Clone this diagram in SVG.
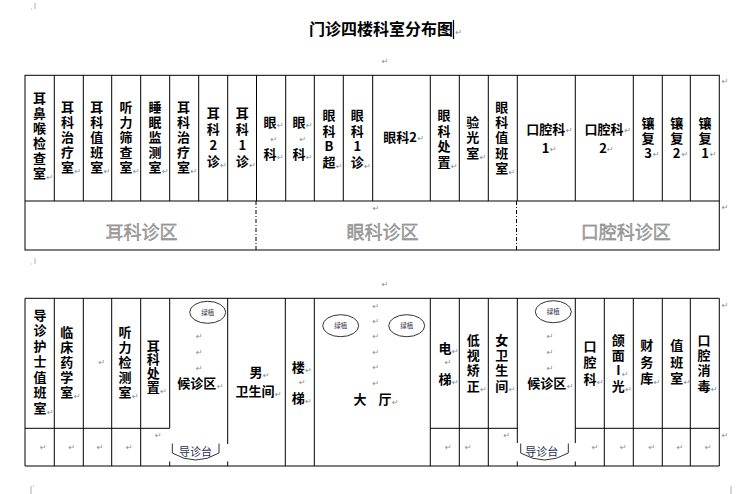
<svg xmlns="http://www.w3.org/2000/svg" width="753" height="494" viewBox="0 0 753 494">
<style>
.t{font-family:"Noto Sans CJK SC","Liberation Sans",sans-serif;font-size:13px;font-weight:700;fill:#000;text-anchor:middle}
.v{font-family:"Noto Sans CJK SC","Liberation Sans",sans-serif;font-size:13px;font-weight:700;fill:#000;writing-mode:vertical-rl;text-orientation:upright;text-anchor:start}
.ti{font-family:"Noto Sans CJK SC","Liberation Sans",sans-serif;font-size:16px;font-weight:700;fill:#000;text-anchor:middle}
.z{font-family:"Noto Sans CJK SC","Liberation Sans",sans-serif;font-size:18px;font-weight:400;fill:#a8a8a8;stroke:#6e6e6e;stroke-width:0.35;text-anchor:middle}
.pm{font-family:"DejaVu Sans",sans-serif;font-size:8px;fill:#8a8a8a;text-anchor:start}
.g{font-family:"Noto Sans CJK SC",sans-serif;font-size:6.5px;fill:#334;text-anchor:middle}
.d{font-family:"Noto Sans CJK SC",sans-serif;font-size:11px;fill:#1f2f55;text-anchor:middle}
.ln{stroke:#000;stroke-width:1;fill:none}
.dash{stroke:#000;stroke-width:1;fill:none;stroke-dasharray:4 2 1 2}
.ov{fill:#fff;stroke:#333;stroke-width:1}
.br{fill:none;stroke:#333;stroke-width:1}
.cm{stroke:#999;stroke-width:0.8;fill:none}
</style>
<rect width="753" height="494" fill="#fff"/>

<path class="cm" d="M35,3 V9 M31,9 H32 M35,258 V264 M31,264 H32 M31,486 V494 M33,486 H34 M731,486 V494"/>

<g id="title">
<text class="ti" x="381" y="35">门诊四楼科室分布图</text>
<path d="M453.5,20 V39" stroke="#000" stroke-width="1.2"/>
<text class="pm" x="455.5" y="35">↵</text>
<text class="pm" x="381.7" y="64">↵</text>
</g>

<g id="lines">
<rect class="ln" x="25" y="75.3" width="694.3" height="174.7"/>
<path class="ln" d="M25,201 H719.3
M54.3,75.3 V201 M83.3,75.3 V201 M111.7,75.3 V201 M140.7,75.3 V201 M169.7,75.3 V201 M198.7,75.3 V201 M227.7,75.3 V201 M256.5,75.3 V201
M285.7,75.3 V201 M314.3,75.3 V201 M343.3,75.3 V201 M372.7,75.3 V201 M430.3,75.3 V201 M459.3,75.3 V201 M488.3,75.3 V201 M517.3,75.3 V201
M575.3,75.3 V201 M633.3,75.3 V201 M662.3,75.3 V201 M690.3,75.3 V201"/>
<path class="dash" d="M256,201 V250 M516.5,201 V250"/>
<path class="ln" d="M25,298.3 H719.3 M25,466 H719.3 M25,298.3 V466 M719.3,298.3 V466
M25,428.3 H169.7 M430.3,428.3 H517.3 M575.3,428.3 H719.3
M54.3,298.3 V466 M83.3,298.3 V466 M111.7,298.3 V466 M140.7,298.3 V466
M285.3,298.3 V466 M314.3,298.3 V466 M430.3,298.3 V466 M459.3,298.3 V466 M488.3,298.3 V466
M604.3,298.3 V466 M633.3,298.3 V466 M662.3,298.3 V466 M690.3,298.3 V466
M169.7,298.3 V428.3 M169.7,461.5 V466
M227.7,298.3 V444 M227.7,461.5 V466
M517.3,298.3 V443 M517.3,461.5 V466
M575.3,298.3 V443 M575.3,461.5 V466"/>
</g>

<g id="ent-zone">
<text class="v" x="39.5" y="91.2" style="letter-spacing:2px">耳鼻喉检查室</text>
<text class="v" x="67.5" y="100.2" style="letter-spacing:2px">耳科治疗室</text>
<text class="v" x="96.7" y="100.2" style="letter-spacing:2px">耳科值班室</text>
<text class="v" x="126" y="100.2" style="letter-spacing:2px">听力筛查室</text>
<text class="v" x="155" y="100.2" style="letter-spacing:2px">睡眠监测室</text>
<text class="v" x="183.5" y="100.2" style="letter-spacing:2px">耳科治疗室</text>
<text class="v" x="213.3" y="106.5" style="letter-spacing:3px">耳科2诊</text>
<text class="v" x="242.3" y="106.5" style="letter-spacing:3px">耳科1诊</text>
<text class="pm"><tspan x="46.5" y="180">↵</tspan><tspan x="74.5" y="174">↵</tspan><tspan x="103.7" y="174">↵</tspan><tspan x="133" y="174">↵</tspan><tspan x="162" y="174">↵</tspan><tspan x="190.5" y="174">↵</tspan><tspan x="220.3" y="168">↵</tspan><tspan x="249.3" y="168">↵</tspan></text>
<text class="z" x="141.5" y="238.5">耳科诊区</text>
</g>

<g id="eye-zone">
<text class="t" x="270" y="126.7">眼</text>
<text class="t" x="270" y="159">科</text>
<text class="t" x="299" y="126.7">眼</text>
<text class="t" x="299" y="159">科</text>
<text class="v" x="329" y="108.5" style="letter-spacing:2.6px">眼科B超</text>
<text class="v" x="357.3" y="108.5" style="letter-spacing:2.6px">眼科1诊</text>
<text class="t" x="400" y="141.7">眼科2</text>
<text class="v" x="444" y="108.5" style="letter-spacing:2.6px">眼科处置</text>
<text class="v" x="472.7" y="115.2" style="letter-spacing:2.8px">验光室</text>
<text class="v" x="501.7" y="100.2" style="letter-spacing:2.4px">眼科值班室</text>
<text class="pm"><tspan x="277" y="127.5">↵</tspan><tspan x="270.5" y="142">↵</tspan><tspan x="277" y="159.5">↵</tspan><tspan x="306" y="127.5">↵</tspan><tspan x="299.5" y="142">↵</tspan><tspan x="306" y="159.5">↵</tspan><tspan x="336" y="168.5">↵</tspan><tspan x="364.3" y="168.5">↵</tspan><tspan x="417.5" y="141">↵</tspan><tspan x="451" y="168.5">↵</tspan><tspan x="479.7" y="160">↵</tspan><tspan x="508.7" y="175">↵</tspan><tspan x="372.7" y="211">↵</tspan></text>
<text class="z" x="382.5" y="238.5">眼科诊区</text>
</g>

<g id="dental-zone">
<text class="t" x="545.8" y="133.5">口腔科</text>
<text class="t" x="545.7" y="152.5">1</text>
<text class="t" x="604" y="133.5">口腔科</text>
<text class="t" x="603" y="152.5">2</text>
<text class="v" x="648" y="116.8" style="letter-spacing:2px">镶复3</text>
<text class="v" x="676.7" y="116.8" style="letter-spacing:2px">镶复2</text>
<text class="v" x="705" y="116.8" style="letter-spacing:2px">镶复1</text>
<text class="pm"><tspan x="566" y="133">↵</tspan><tspan x="550" y="151.5">↵</tspan><tspan x="624.5" y="133">↵</tspan><tspan x="607" y="151.5">↵</tspan><tspan x="653" y="157">↵</tspan><tspan x="681.7" y="157">↵</tspan><tspan x="710" y="157">↵</tspan><tspan x="721.7" y="83.5">↵</tspan><tspan x="721.7" y="210">↵</tspan></text>
<text class="z" x="625.8" y="238.5">口腔科诊区</text>
</g>

<g id="bottom-left">
<text class="v" x="40" y="308.5" style="letter-spacing:2.5px">导诊护士值班室</text>
<text class="v" x="66.7" y="325.8" style="letter-spacing:1.85px">临床药学室</text>
<text class="v" x="125" y="325.8" style="letter-spacing:1.85px">听力检测室</text>
<text class="v" x="153.3" y="339.2" style="letter-spacing:0.8px">耳科处置</text>
<text class="pm"><tspan x="47" y="415">↵</tspan><tspan x="74" y="398.5">↵</tspan><tspan x="98.4" y="364.5">↵</tspan><tspan x="132" y="398.5">↵</tspan><tspan x="160.3" y="394">↵</tspan><tspan x="40" y="450">↵</tspan><tspan x="68.4" y="450">↵</tspan><tspan x="96.7" y="450">↵</tspan><tspan x="126" y="450">↵</tspan><tspan x="155" y="438">↵</tspan><tspan x="381.7" y="287">↵</tspan></text>
</g>

<g id="waiting-left">
<ellipse class="ov" cx="207.7" cy="312.3" rx="18" ry="11"/>
<text class="g" x="207.7" y="314.7">绿植</text>
<text class="pm"><tspan x="196" y="338.5">↵</tspan><tspan x="196" y="354.5">↵</tspan><tspan x="196" y="371">↵</tspan><tspan x="217" y="389">↵</tspan></text>
<text class="t" x="196.7" y="387.7">候诊区</text>
<path class="br" d="M172.3,443.5 V453 Q195.6,467 219,453 V443.5"/>
<text class="d" x="195.6" y="455.5">导诊台</text>
</g>

<g id="male-wc">
<text class="t" x="256" y="377">男</text>
<text class="t" x="255" y="396.2">卫生间</text>
<text class="pm"><tspan x="263" y="378">↵</tspan><tspan x="275" y="397">↵</tspan></text>
</g>

<g id="stairs">
<text class="t" x="298.3" y="371.7">楼</text>
<text class="t" x="298.3" y="402.7">梯</text>
<text class="pm"><tspan x="305.3" y="372.5">↵</tspan><tspan x="299" y="384.5">↵</tspan><tspan x="305.3" y="403.5">↵</tspan></text>
</g>

<g id="hall">
<ellipse class="ov" cx="340.7" cy="325.7" rx="18" ry="11"/>
<text class="g" x="340.7" y="328.1">绿植</text>
<ellipse class="ov" cx="406.7" cy="325.7" rx="18" ry="11"/>
<text class="g" x="406.7" y="328.1">绿植</text>
<text class="pm"><tspan x="372.4" y="308.5">↵</tspan><tspan x="372.4" y="324">↵</tspan><tspan x="372.4" y="339">↵</tspan><tspan x="372.4" y="354.5">↵</tspan><tspan x="372.4" y="370">↵</tspan><tspan x="372.4" y="386">↵</tspan><tspan x="392" y="405">↵</tspan></text>
<text class="t" x="360" y="404">大</text>
<text class="t" x="385" y="404">厅</text>
</g>

<g id="elevator">
<text class="t" x="445" y="352.7">电</text>
<text class="t" x="445" y="384">梯</text>
<text class="pm"><tspan x="452" y="353.5">↵</tspan><tspan x="444.7" y="365">↵</tspan><tspan x="452" y="385">↵</tspan><tspan x="445" y="450">↵</tspan><tspan x="465" y="450">↵</tspan><tspan x="503.4" y="438">↵</tspan></text>
</g>

<g id="low-vision">
<text class="v" x="473.3" y="333.5" style="letter-spacing:2.2px">低视矫正</text>
<text class="pm" x="480.3" y="392">↵</text>
</g>

<g id="female-wc">
<text class="v" x="501.7" y="333.5" style="letter-spacing:2.2px">女卫生间</text>
<text class="pm" x="508.7" y="392">↵</text>
</g>

<g id="waiting-right">
<ellipse class="ov" cx="553.3" cy="311.7" rx="18" ry="11"/>
<text class="g" x="553.3" y="314.1">绿植</text>
<text class="pm"><tspan x="546.7" y="338.5">↵</tspan><tspan x="546.7" y="354.5">↵</tspan><tspan x="546.7" y="371">↵</tspan><tspan x="567" y="389">↵</tspan></text>
<text class="t" x="546.7" y="387.7">候诊区</text>
<path class="br" d="M520.7,443.5 V453 Q544.5,467 568.3,453 V443.5"/>
<text class="d" x="541.7" y="455.5">导诊台</text>
</g>

<g id="bottom-right">
<text class="v" x="590" y="339.5" style="letter-spacing:3.5px">口腔科</text>
<text class="v" x="618.3" y="333.5" style="letter-spacing:2.2px">颌面I光</text>
<text class="v" x="646.7" y="338.5" style="letter-spacing:3.7px">财务库</text>
<text class="v" x="676.7" y="338.5" style="letter-spacing:3.7px">值班室</text>
<text class="v" x="704" y="333.5" style="letter-spacing:2.2px">口腔消毒</text>
<text class="pm"><tspan x="597" y="385">↵</tspan><tspan x="622" y="377">↵</tspan><tspan x="625.3" y="392">↵</tspan><tspan x="653.7" y="385">↵</tspan><tspan x="683.7" y="385">↵</tspan><tspan x="711" y="392">↵</tspan><tspan x="591.7" y="450">↵</tspan><tspan x="620" y="450">↵</tspan><tspan x="648.4" y="450">↵</tspan><tspan x="676.7" y="450">↵</tspan><tspan x="705" y="450">↵</tspan><tspan x="721.7" y="308">↵</tspan><tspan x="721.7" y="438">↵</tspan></text>
</g>
</svg>
